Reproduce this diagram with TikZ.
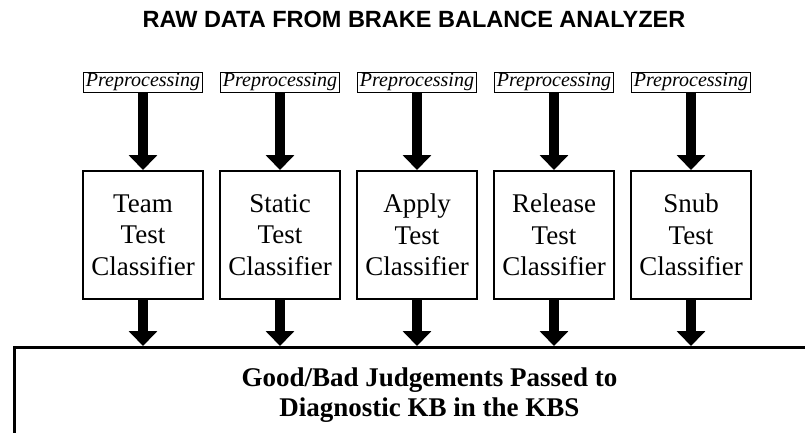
\documentclass[tikz,border=0pt]{standalone}
\usepackage{fontspec}
\setmainfont{Liberation Serif}
\newfontfamily\titlefont{Liberation Sans}
\usetikzlibrary{arrows.meta}
\begin{document}
\begin{tikzpicture}[x=1pt, y=-1pt,
		prebox/.style={draw, line width=1pt, minimum width=119pt, minimum height=20pt, inner sep=0pt, font=\fontsize{20}{22}\selectfont\itshape},
		classbox/.style={draw, line width=2pt, minimum width=120pt, minimum height=128pt, align=center, font=\fontsize{27}{31.5}\selectfont},
		judgebox/.style={draw, line width=3pt, minimum width=830pt, minimum height=96pt, align=center, font=\fontsize{27}{30}\selectfont\bfseries},
		blockarrow/.style={line width=10pt, -{Triangle[width=28pt, length=15pt]}}]
		\clip (0,0) rectangle (805,433);
		\node[font=\titlefont\bfseries\fontsize{23.5}{28}\selectfont] (title) at (414,19) {RAW DATA FROM BRAKE BALANCE ANALYZER};
		\node[prebox] (pteam) at (143,82.5) {Preprocessing};
		\node[prebox] (pstatic) at (280,82.5) {Preprocessing};
		\node[prebox] (papply) at (417,82.5) {Preprocessing};
		\node[prebox] (prelease) at (554,82.5) {Preprocessing};
		\node[prebox] (psnub) at (691,82.5) {Preprocessing};
		\node[classbox] (team) at (143,235) {Team\\Test\\Classifier};
		\node[classbox] (static) at (280,235) {Static\\Test\\Classifier};
		\node[classbox] (apply) at (417,235) {Apply\\Test\\Classifier};
		\node[classbox] (release) at (554,235) {Release\\Test\\Classifier};
		\node[classbox] (snub) at (691,235) {Snub\\Test\\Classifier};
		\node[judgebox, anchor=north west] (kb) at (13,346) {Good/Bad Judgements Passed to\\Diagnostic KB in the KBS};
		\draw[blockarrow] (pteam) -- (team);
		\draw[blockarrow] (pstatic) -- (static);
		\draw[blockarrow] (papply) -- (apply);
		\draw[blockarrow] (prelease) -- (release);
		\draw[blockarrow] (psnub) -- (snub);
		\draw[blockarrow] (team) -- (team |- kb.north);
		\draw[blockarrow] (static) -- (static |- kb.north);
		\draw[blockarrow] (apply) -- (apply |- kb.north);
		\draw[blockarrow] (release) -- (release |- kb.north);
		\draw[blockarrow] (snub) -- (snub |- kb.north);
	\end{tikzpicture}
\end{document}
